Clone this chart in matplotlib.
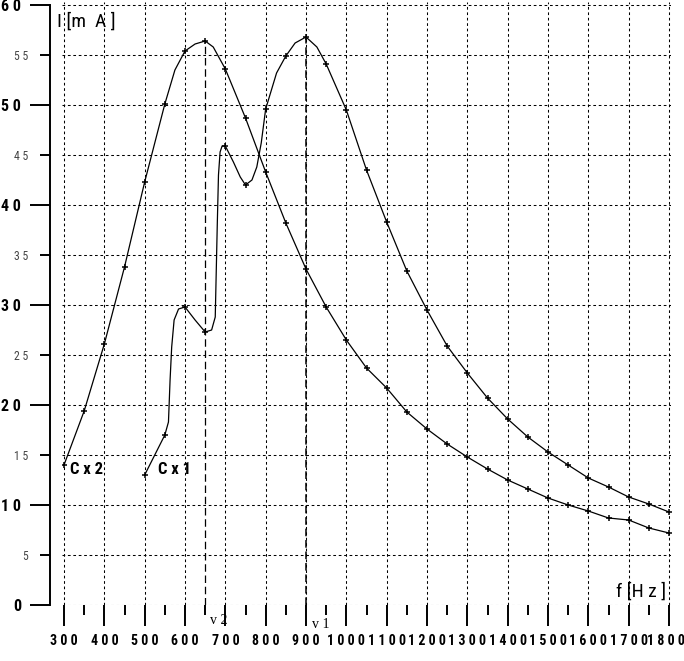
"""
Resonance curves I(f) of the two coupled circuits Cx1 and Cx2.
Saves out.png (684 x 661 px).
"""

import matplotlib.pyplot as plt
from matplotlib.ticker import FuncFormatter, MultipleLocator
from matplotlib.transforms import ScaledTranslation

FONT = ["Roboto Condensed", "Liberation Sans Narrow", "DejaVu Sans"]
SERIF = ["Liberation Serif", "DejaVu Serif"]

# Cx2: single broad peak near v2
CX2_F = [300, 350, 400, 450, 500, 550, 575, 600, 625, 650, 670, 700, 750, 800,
         850, 900, 950, 1000, 1050, 1100, 1150, 1200, 1250, 1300, 1350, 1400,
         1450, 1500, 1550, 1600, 1650, 1700, 1750, 1800]
CX2_I = [14.0, 19.4, 26.1, 33.8, 42.3, 50.1, 53.5, 55.4, 56.1, 56.4, 55.8, 53.6,
         48.7, 43.3, 38.2, 33.6, 29.8, 26.5, 23.7, 21.7, 19.3, 17.6, 16.1, 14.8,
         13.6, 12.5, 11.6, 10.7, 10.0, 9.4, 8.7, 8.5, 7.7, 7.2]

# Cx1: jumps and main peak at v1
CX1_F = [500, 525, 550, 559, 563, 567, 573, 584, 600, 625, 650, 666, 675, 677,
         680, 683, 687, 692, 700, 720, 737, 750, 766, 778, 789, 800, 827, 850,
         873, 900, 927, 950, 1000, 1050, 1100, 1150, 1200, 1250, 1300, 1350,
         1400, 1450, 1500, 1550, 1600, 1650, 1700, 1750, 1800]
CX1_I = [13.0, 15.0, 17.0, 18.3, 22.5, 25.8, 28.5, 29.6, 29.8, 28.5, 27.3, 27.5,
         28.8, 32.5, 38.0, 43.0, 45.3, 45.9, 45.9, 44.3, 42.8, 42.0, 42.5, 43.8,
         46.2, 49.6, 53.2, 54.9, 56.2, 56.8, 55.8, 54.1, 49.5, 43.5, 38.3, 33.4,
         29.5, 25.9, 23.2, 20.7, 18.6, 16.8, 15.3, 14.0, 12.7, 11.8, 10.8, 10.1,
         9.3]

V2, V2_I = 650, 56.4
V1, V1_I = 900, 56.8

W, H = 684, 661
X0, X1 = 295, 1805
Y0, Y1 = 0, 60.3


def px_x(f):
    return 64 + (f - 300) * 605 / 1500


def px_y(i):
    return 605 - i * 10


def spaced(v, pos=None):
    return " ".join(str(int(round(v))))


def pt(px):
    return px * 72 / 100


def main():
    fig = plt.figure(figsize=(W / 100, H / 100), dpi=100)
    left, right = px_x(X0) / W, px_x(X1) / W
    bottom, top = (H - px_y(Y0)) / H, (H - px_y(Y1)) / H
    ax = fig.add_axes([left, bottom, right - left, top - bottom])
    ax.set_xlim(X0, X1)
    ax.set_ylim(Y0, Y1)

    for s in ("top", "right"):
        ax.spines[s].set_visible(False)
    ax.spines["bottom"].set_color("none")
    ax.spines["left"].set_position(("outward", pt(px_x(X0) - 50)))
    ax.spines["left"].set_bounds(0, 60)
    ax.spines["left"].set_linewidth(1.4)

    ax.xaxis.set_major_locator(MultipleLocator(100))
    ax.xaxis.set_minor_locator(MultipleLocator(50))
    ax.yaxis.set_major_locator(MultipleLocator(10))
    ax.yaxis.set_minor_locator(MultipleLocator(5))
    ax.xaxis.set_major_formatter(FuncFormatter(spaced))
    ax.yaxis.set_major_formatter(FuncFormatter(spaced))
    ax.yaxis.set_minor_formatter(FuncFormatter(spaced))

    ax.tick_params(axis="x", which="major", direction="out", length=pt(21),
                   width=1.4, pad=pt(8), labelsize=10)
    ax.tick_params(axis="x", which="minor", direction="out", length=pt(10),
                   width=1.4)
    ax.tick_params(axis="y", which="major", direction="out", length=pt(20),
                   width=1.4, pad=pt(9), labelsize=11.5)
    ax.tick_params(axis="y", which="minor", direction="out", length=pt(10),
                   width=1.4, pad=pt(12), labelsize=8.5)
    for lab in ax.get_xticklabels() + ax.get_yticklabels():
        lab.set_family(FONT)
        lab.set_fontstretch("condensed")
        lab.set_fontweight("bold")
    for lab in ax.get_yticklabels(minor=True):
        lab.set_family(FONT)
        lab.set_fontstretch("condensed")
        lab.set_color("#444444")

    # last frequency label sits right at the picture edge: nudge it in a bit
    for tick in ax.xaxis.get_major_ticks():
        if abs(tick.get_loc() - 1800) < 1:
            lab = tick.label1
            lab.set_transform(lab.get_transform()
                              + ScaledTranslation(-3.5 / 100, 0, fig.dpi_scale_trans))

    grid_kw = dict(color="black", linewidth=0.75, linestyle=(0, (2.6, 2.6)))
    ax.grid(True, axis="x", which="major", **grid_kw)
    ax.grid(True, axis="y", which="both", **grid_kw)
    ax.set_axisbelow(True)

    # resonance markers
    ax.plot([V2, V2], [0, V2_I], color="black", lw=0.9,
            linestyle=(0, (6, 3)), zorder=3)
    ax.plot([V1, V1], [0, V1_I], color="black", lw=1.1,
            linestyle=(0, (5, 2.5)), zorder=3)

    for f, i in ((CX2_F, CX2_I), (CX1_F, CX1_I)):
        ax.plot(f, i, color="black", lw=0.9, zorder=4)
        mf = [a for a in f if a % 50 == 0]
        mi = [b for a, b in zip(f, i) if a % 50 == 0]
        ax.plot(mf, mi, linestyle="none", marker="+", markersize=5,
                markeredgewidth=1.1, color="black", zorder=5)

    ax.annotate("v 2", xy=(V2, 0), xytext=(pt(5), pt(-16)),
                textcoords="offset points", ha="left", va="center",
                fontsize=10, family=SERIF, annotation_clip=False)
    ax.annotate("v 1", xy=(V1, 0), xytext=(pt(6), pt(-19)),
                textcoords="offset points", ha="left", va="center",
                fontsize=10, family=SERIF, annotation_clip=False)

    ax.text(315, 13.5, "C x 2", ha="left", va="center", fontsize=12,
            fontweight="bold", family=FONT, fontstretch="condensed")
    ax.text(533, 13.5, "C x 1", ha="left", va="center", fontsize=12,
            fontweight="bold", family=FONT, fontstretch="condensed")
    ax.text(283, 58.3, "I [m  A ]", ha="left", va="center", fontsize=14,
            family=FONT, fontstretch="condensed", clip_on=False)
    ax.text(1792, 1.3, "f [H z ]", ha="right", va="center", fontsize=14,
            family=FONT, fontstretch="condensed")

    fig.savefig("out.png", dpi=100)
    plt.close(fig)


if __name__ == "__main__":
    main()
